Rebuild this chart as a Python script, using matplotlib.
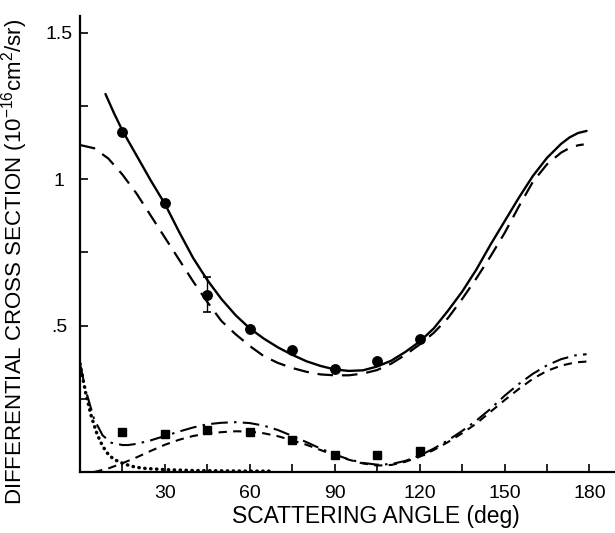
import matplotlib
matplotlib.use("Agg")
import matplotlib.pyplot as plt

plt.rcParams['font.family'] = ['Liberation Sans', 'DejaVu Sans']
plt.rcParams['mathtext.default'] = 'regular'

# ---- data ----
circle_angle = [15, 30, 45, 60, 75, 90, 105, 120]
circle_value = [1.161, 0.917, 0.604, 0.487, 0.416, 0.350, 0.380, 0.453]
err_angle = [45]
err_low = [0.545]
err_high = [0.667]

square_angle = [15, 30, 45, 60, 75, 90, 105, 120]
square_value = [0.137, 0.131, 0.144, 0.136, 0.110, 0.057, 0.059, 0.071]

solid_angle = [9, 12, 15, 20, 25, 30, 35, 40, 45, 50, 55, 60, 65, 70, 75, 80, 85, 90, 95,
               100, 105, 110, 115, 120, 125, 130, 135, 140, 145, 150, 155, 160, 165,
               170, 173, 176, 179]
solid_value = [1.29, 1.225, 1.165, 1.08, 0.995, 0.915, 0.82, 0.73, 0.655, 0.59, 0.535,
               0.49, 0.455, 0.425, 0.40, 0.378, 0.362, 0.350, 0.345, 0.347, 0.36, 0.38,
               0.41, 0.445, 0.49, 0.55, 0.615, 0.69, 0.775, 0.855, 0.935, 1.01, 1.072,
               1.12, 1.142, 1.157, 1.164]

dashed_angle = [0, 5, 10, 15, 20, 25, 30, 35, 40, 45, 50, 55, 60, 65, 70, 75, 80, 85,
                90, 95, 100, 105, 110, 115, 120, 125, 130, 135, 140, 145, 150, 155,
                160, 165, 170, 173, 176, 178]
dashed_value = [1.116, 1.105, 1.07, 1.015, 0.95, 0.875, 0.80, 0.725, 0.65, 0.58, 0.515,
                0.47, 0.43, 0.395, 0.372, 0.355, 0.342, 0.333, 0.330, 0.330, 0.336,
                0.348, 0.37, 0.40, 0.435, 0.475, 0.525, 0.59, 0.66, 0.735, 0.815,
                0.905, 0.99, 1.05, 1.09, 1.106, 1.115, 1.118]

dashdot_angle = [0, 2, 5, 8, 11, 15, 17, 20, 25, 30, 35, 40, 45, 50, 55, 60, 65, 70,
                 75, 80, 85, 90, 95, 100, 105, 110, 115, 120, 125, 130, 135, 140, 145,
                 150, 155, 160, 165, 170, 175, 179]
dashdot_value = [0.37, 0.28, 0.18, 0.125, 0.10, 0.092, 0.092, 0.096, 0.108, 0.123,
                 0.138, 0.152, 0.163, 0.168, 0.170, 0.167, 0.158, 0.143, 0.123, 0.102,
                 0.080, 0.060, 0.043, 0.031, 0.025, 0.027, 0.038, 0.056, 0.08, 0.108,
                 0.14, 0.175, 0.215, 0.26, 0.30, 0.335, 0.364, 0.385, 0.398, 0.402]

shortdash_angle = [5, 10, 15, 20, 25, 30, 35, 40, 45, 50, 55, 60, 65, 70, 75, 80, 85,
                   90, 95, 100, 105, 110, 115, 120, 125, 130, 135, 140, 145, 150, 155,
                   160, 165, 170, 175, 179]
shortdash_value = [0.0, 0.012, 0.03, 0.05, 0.072, 0.093, 0.11, 0.123, 0.131, 0.136,
                   0.139, 0.138, 0.132, 0.122, 0.108, 0.093, 0.075, 0.057, 0.042, 0.029,
                   0.022, 0.024, 0.035, 0.052, 0.075, 0.102, 0.132, 0.165, 0.205, 0.245,
                   0.283, 0.318, 0.345, 0.363, 0.374, 0.377]

dotted_angle = [0, 2, 4, 6, 8, 10, 12, 15, 18, 22, 30, 40, 50, 60, 68]
dotted_value = [0.37, 0.27, 0.19, 0.13, 0.088, 0.06, 0.043, 0.03, 0.02, 0.013, 0.008,
                0.005, 0.004, 0.003, 0.003]

x_ticks = [15, 30, 45, 60, 75, 90, 105, 120, 135, 150, 165, 180]
x_tick_labels = ['', '30', '', '60', '', '90', '', '120', '', '150', '', '180']
y_ticks = [0.25, 0.5, 0.75, 1.0, 1.25, 1.5]
y_tick_labels = ['', '.5', '', '1', '', '1.5']

# ---- figure ----
fig = plt.figure(figsize=(6.15, 5.33), dpi=100)
ax = fig.add_axes([80/615, 61/533, 535/615, 456/533])
ax.set_xlim(0, 535/2.83)
ax.set_ylim(0, 456/293)

k = 'black'
ax.plot(solid_angle, solid_value, color=k, lw=1.7, solid_capstyle='round')
ax.plot(dashed_angle, dashed_value, color=k, lw=1.6, dashes=(7, 4))
ax.plot(dashdot_angle, dashdot_value, color=k, lw=1.5, dashes=(8, 3, 1.2, 3))
ax.plot(shortdash_angle, shortdash_value, color=k, lw=1.5, dashes=(4, 3))
ax.plot(dotted_angle, dotted_value, color=k, lw=2.5, dashes=(0.1, 1.6),
        dash_capstyle='round')

ax.plot(circle_angle, circle_value, 'o', color=k, ms=6.8, zorder=5)
ax.plot(square_angle, square_value, 's', color=k, ms=5.4, zorder=5)
ax.vlines(err_angle, err_low, err_high, color=k, lw=1.0)
ax.hlines(err_low + err_high, [a - 1.4 for a in err_angle * 2],
          [a + 1.4 for a in err_angle * 2], color=k, lw=1.2)

for s in ('top', 'right'):
    ax.spines[s].set_visible(False)
ax.spines['left'].set_linewidth(1.6)
ax.spines['bottom'].set_linewidth(1.6)

ax.set_xticks(x_ticks)
ax.set_xticklabels(x_tick_labels)
ax.set_yticks(y_ticks)
ax.set_yticklabels(y_tick_labels)
ax.tick_params(axis='both', direction='in', length=6, width=1.2, labelsize=14)
ax.tick_params(axis='x', pad=9)
ax.tick_params(axis='y', pad=15)
for lab in ax.get_yticklabels():
    lab.set_ha('center')

ax.set_xlabel('SCATTERING ANGLE (deg)', fontsize=16.5)
ax.xaxis.set_label_coords((376 - 80) / 535, -0.072)
ax.set_ylabel('DIFFERENTIAL CROSS SECTION (10$^{-16}$cm$^{2}$/sr)', fontsize=16)
ax.yaxis.set_label_coords((30 - 80) / 535, (472 - 262) / 456)

fig.savefig('out.png', dpi=100)
